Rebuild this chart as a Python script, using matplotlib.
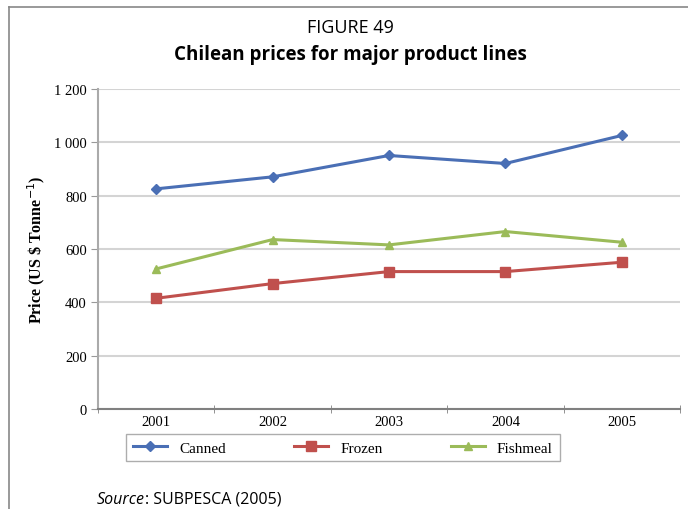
import matplotlib.pyplot as plt
from matplotlib.lines import Line2D

years = ['2001', '2002', '2003', '2004', '2005']
canned = [825, 870, 950, 920, 1025]
frozen = [415, 470, 515, 515, 550]
fishmeal = [525, 635, 615, 665, 625]
yticks = [0, 200, 400, 600, 800, 1000, 1200]
ytick_labels = ['0', '200', '400', '600', '800', '1 000', '1 200']

serif = 'Liberation Serif'
sans = 'Open Sans'

fig = plt.figure(figsize=(6.88, 5.10), dpi=100)

# rahmen oben und links
fig.add_artist(Line2D([0.013, 1.0], [0.984, 0.984], color='#888888', lw=1.2))
fig.add_artist(Line2D([0.013, 0.013], [0.0, 0.984], color='#888888', lw=1.2))

fig.text(0.51, 0.946, 'FIGURE 49', ha='center', va='center', fontsize=13, family=sans)
fig.text(0.51, 0.893, 'Chilean prices for major product lines', ha='center', va='center',
         fontsize=13.5, family=sans, fontweight='bold')

ax = fig.add_axes([0.1424, 0.196, 0.846, 0.628])
x = list(range(len(years)))
ax.plot(x, canned, color='#4a6fb5', lw=2.2, marker='D', ms=5, label='Canned')
ax.plot(x, frozen, color='#c0504d', lw=2.2, marker='s', ms=7, label='Frozen')
ax.plot(x, fishmeal, color='#9bbb59', lw=2.2, marker='^', ms=6, label='Fishmeal')

ax.set_xlim(-0.5, 4.5)
ax.set_ylim(0, 1200)
ax.set_yticks(yticks)
ax.set_yticklabels(ytick_labels, family=serif, fontsize=10.5)
ax.set_xticks(x)
ax.set_xticklabels(years, family=serif, fontsize=10.5)
ax.set_xticks([i + 0.5 for i in range(-1, 5)], minor=True)
ax.tick_params(axis='x', which='major', length=0, pad=4)
ax.tick_params(axis='x', which='minor', length=6, direction='inout', color='#808080')
ax.tick_params(axis='y', length=5, color='#999999', pad=3)
ax.yaxis.grid(True, color='#d4d4d4', lw=1.5)
ax.set_axisbelow(True)
for s in ['top', 'right']:
    ax.spines[s].set_visible(False)
ax.spines['left'].set_color('#aaaaaa')
ax.spines['left'].set_linewidth(1.5)
ax.spines['bottom'].set_color('#808080')
ax.spines['bottom'].set_linewidth(1.5)

ax.set_ylabel('Price (US \\$ Tonne$^{-1}$)', family=serif, fontweight='bold', fontsize=11.5, labelpad=5)

ax.legend(loc='upper left', bbox_to_anchor=(0.049, -0.178, 0.744, 0.1), ncol=3, mode='expand',
          frameon=True, fancybox=False, edgecolor='#999999', prop={'family': serif, 'size': 11},
          handlelength=2.2, borderpad=0.45, borderaxespad=0)

# "Source" kursiv, rest normal direkt dahinter
src = fig.text(0.141, 0.02, 'Source', ha='left', va='center', fontsize=11.5, family=sans, style='italic')
r = fig.canvas.get_renderer()
bb = src.get_window_extent(renderer=r)
fig.text(bb.x1 / fig.bbox.width, 0.02, ': SUBPESCA (2005)', ha='left', va='center', fontsize=11.5, family=sans)

plt.savefig('out.png', dpi=100)
